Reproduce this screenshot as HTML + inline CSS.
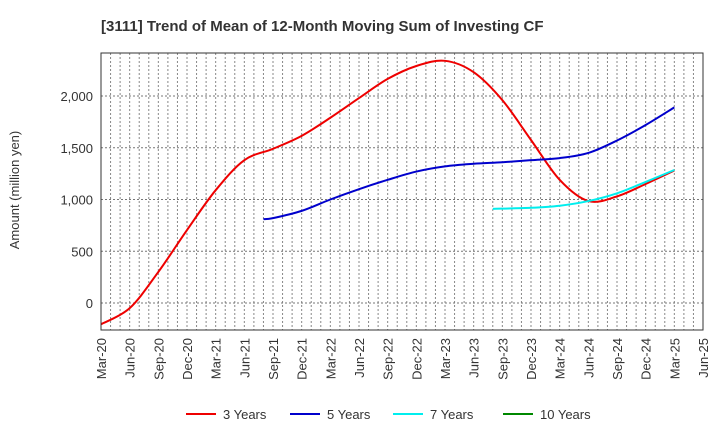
<!DOCTYPE html>
<html><head><meta charset="utf-8"><style>
body{margin:0;background:#fff;}
svg{font-family:"Liberation Sans",Arial,sans-serif;}
</style></head><body>
<svg id="chart" width="720" height="440" xmlns="http://www.w3.org/2000/svg">
<text x="101" y="31" font-size="15" font-weight="bold" fill="#333">[3111]  Trend of Mean of 12-Month Moving Sum of Investing CF</text>
<text transform="translate(19,190) rotate(-90)" text-anchor="middle" font-size="13" fill="#333">Amount (million yen)</text>
<g id="grid"></g>
<g id="series"></g>
<g id="axes"></g>
<g font-size="13" fill="#333">
<g><line x1="186" y1="414" x2="216" y2="414" stroke="#e00" stroke-width="2"/><text x="223" y="419">3 Years</text></g>
<g><line x1="290" y1="414" x2="320" y2="414" stroke="#00c" stroke-width="2"/><text x="327" y="419">5 Years</text></g>
<g><line x1="393" y1="414" x2="423" y2="414" stroke="#0ee" stroke-width="2"/><text x="430" y="419">7 Years</text></g>
<g><line x1="503" y1="414" x2="533" y2="414" stroke="#080" stroke-width="2"/><text x="540" y="419">10 Years</text></g>
</g>
</svg>
<script>
const xTickLabels=["Mar-20","Jun-20","Sep-20","Dec-20","Mar-21","Jun-21","Sep-21","Dec-21","Mar-22","Jun-22","Sep-22","Dec-22","Mar-23","Jun-23","Sep-23","Dec-23","Mar-24","Jun-24","Sep-24","Dec-24","Mar-25","Jun-25"];
const yTicks=[0,500,1000,1500,2000];
// month index from Mar-20
const months3=[0,3,6,9,12,15,18,21,24,27,30,33,36,39,42,45,48,51,54,57,60];
const values3=[-205,-50,300,705,1090,1380,1490,1615,1790,1980,2165,2290,2340,2230,1960,1575,1190,985,1030,1150,1280];
const months5=[17,18,21,24,27,30,33,36,39,42,45,48,51,54,57,60];
const values5=[810,820,890,1000,1100,1190,1270,1320,1345,1360,1380,1400,1450,1570,1720,1890];
const months7=[41,45,48,51,54,57,60];
const values7=[910,920,940,985,1060,1170,1285];
const months10=[];
const values10=[];

const L=101,R=703,T=53,B=330;
const xMax=63;
const X=m=>L+(R-L)*m/xMax;
const Y=v=>303-(v)*(303-96)/2000;
const NS="http://www.w3.org/2000/svg";
function mk(t,a,p){const e=document.createElementNS(NS,t);for(const k in a)e.setAttribute(k,a[k]);p.appendChild(e);return e;}
const grid=document.getElementById('grid'),axes=document.getElementById('axes'),ser=document.getElementById('series');
for(let m=1;m<xMax;m++){
  const l=mk('line',{x1:X(m),x2:X(m),y1:T,y2:B,stroke:'#888','stroke-width':1,'stroke-dasharray':'2,2'},grid);
  
  
}
yTicks.forEach(v=>{
  const l=mk('line',{x1:L,x2:R,y1:Y(v),y2:Y(v),stroke:'#777','stroke-width':1,'stroke-dasharray':'2,2'},grid);
  
  
  const t=mk('text',{x:L-8,y:Y(v)+5,'text-anchor':'end','font-size':13,fill:'#333'},axes);
  
  
  t.textContent=v.toLocaleString('en-US');
});
const fr=mk('rect',{x:L,y:T,width:R-L,height:B-T,fill:'none',stroke:'#333','stroke-width':1},axes);


xTickLabels.forEach((s,i)=>{
  const x=X(i*3);
  const t=mk('text',{transform:`translate(${x+5},${B+8}) rotate(-90)`,'text-anchor':'end','font-size':13,fill:'#333'},axes);
  
  
  t.textContent=s;
});
function path(ms,vs){
  const p=ms.map((m,i)=>[X(m),Y(vs[i])]);
  if(!p.length)return '';
  let d=`M${p[0][0]},${p[0][1]}`;
  for(let i=0;i<p.length-1;i++){
    const p0=p[i-1]||p[i],p1=p[i],p2=p[i+1],p3=p[i+2]||p2;
    d+=` C${p1[0]+(p2[0]-p0[0])/6},${p1[1]+(p2[1]-p0[1])/6} ${p2[0]-(p3[0]-p1[0])/6},${p2[1]-(p3[1]-p1[1])/6} ${p2[0]},${p2[1]}`;
  }
  return d;
}
[[months3,values3,'#e00','line-3-years'],[months5,values5,'#00c','line-5-years'],[months7,values7,'#0ee','line-7-years'],[months10,values10,'#080','line-10-years']].forEach(([m,v,c,n])=>{
  const d=path(m,v);if(!d)return;
  const e=mk('path',{d:d,fill:'none',stroke:c,'stroke-width':2},ser);
  
  
});
</script>
</body></html>
